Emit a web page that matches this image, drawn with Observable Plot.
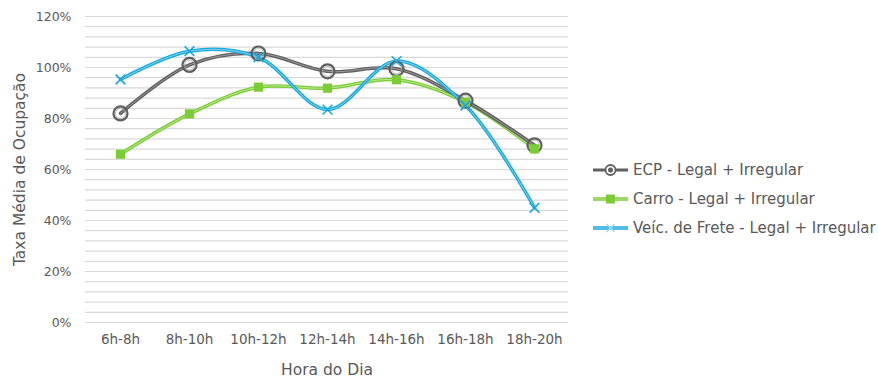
<!DOCTYPE html>
<html><head><meta charset="utf-8">
<script src="https://cdn.jsdelivr.net/npm/d3@7"></script>
<script src="https://cdn.jsdelivr.net/npm/@observablehq/plot@0.6"></script>
<style>
body{margin:0;background:#fff;font-family:"DejaVu Sans",sans-serif;}
#wrap{position:relative;width:878px;height:381px;}
#legend{position:absolute;left:593px;top:155px;font-size:15px;color:#595959;}
.li{display:flex;align-items:center;height:29px;}
.li svg{margin-right:5px;}
</style></head>
<body><div id="wrap"><div id="chart"></div><div id="legend"></div></div>
<script>
const hours = ["6h-8h","8h-10h","10h-12h","12h-14h","14h-16h","16h-18h","18h-20h"];
const ecp   = [0.82, 1.01, 1.055, 0.985, 0.995, 0.87, 0.695];
const carro = [0.66, 0.818, 0.923, 0.919, 0.952, 0.864, 0.681];
const frete = [0.953, 1.064, 1.04, 0.835, 1.025, 0.851, 0.45];
const seriesNames = ["ECP - Legal + Irregular","Carro - Legal + Irregular","Veíc. de Frete - Legal + Irregular"];
const yLabelTicks = [0,0.2,0.4,0.6,0.8,1.0,1.2];
const gridTicks = [0,0.04,0.08,0.12,0.16,0.2,0.24,0.28,0.32,0.36,0.4,0.44,0.48,0.52,0.56,0.6,0.64,0.68,0.72,0.76,0.8,0.84,0.88,0.92,0.96,1.0,1.04,1.08,1.12,1.16,1.2];

const colors = {ecp:"#5f5f5f", carro:"#7ccc36", frete:"#1aa9dc"};
const mk = (vals) => hours.map((h,i)=>({h, v: vals[i]}));
const dE = mk(ecp), dC = mk(carro), dF = mk(frete);

const chart = Plot.plot({
  width: 578, height: 381,
  marginLeft: 85, marginRight: 10, marginTop: 16, marginBottom: 59,
  style: {fontFamily: '"DejaVu Sans", sans-serif', fontSize: "13px", color: "#595959", background: "#fff"},
  x: {type: "point", domain: hours, padding: 0.5},
  y: {domain: [0, 1.2]},
  marks: [
    Plot.ruleY(gridTicks, {stroke: "#d9d9d9", strokeWidth: 1.2}),
    Plot.axisY({ticks: yLabelTicks, tickFormat: d3.format(".0%"), tickSize: 0, tickPadding: 14, fontSize: 12.5, label: null}),
    Plot.axisY({ticks: [], label: "Taxa Média de Ocupação", labelAnchor: "center", labelArrow: "none", labelOffset: 72, fontSize: 15.5}),
    Plot.axisX({tickSize: 0, tickPadding: 12, fontSize: 13.5, label: null}),
    Plot.axisX({ticks: [], label: "Hora do Dia", labelAnchor: "center", labelArrow: "none", labelOffset: 52, fontSize: 15.5}),
    Plot.line(dC, {x: "h", y: "v", curve: "catmull-rom", stroke: colors.carro, strokeWidth: 3.5}),
    Plot.line(dC, {x: "h", y: "v", curve: "catmull-rom", stroke: "#c9ecaa", strokeWidth: 0.8}),
    Plot.line(dE, {x: "h", y: "v", curve: "catmull-rom", stroke: colors.ecp, strokeWidth: 3.5}),
    Plot.line(dE, {x: "h", y: "v", curve: "catmull-rom", stroke: "#a8a8a8", strokeWidth: 0.8}),
    Plot.line(dF, {x: "h", y: "v", curve: "catmull-rom", stroke: colors.frete, strokeWidth: 3.5}),
    Plot.line(dF, {x: "h", y: "v", curve: "catmull-rom", stroke: "#9ddcf2", strokeWidth: 0.8}),
    Plot.dot(dE, {x: "h", y: "v", r: 7, stroke: colors.ecp, strokeWidth: 2.2, fill: "none"}),
    Plot.dot(dE, {x: "h", y: "v", r: 5, stroke: "#aaaaaa", strokeWidth: 0.8, fill: "none"}),
    Plot.dot(dC, {x: "h", y: "v", symbol: "square", r: 5.2, fill: colors.carro, stroke: "none"}),
    Plot.dot(dF, {x: "h", y: "v", symbol: "times", r: 4.5, stroke: colors.frete, strokeWidth: 1.6})
  ]
});
document.getElementById("chart").appendChild(chart);

// legend
const legend = document.getElementById("legend");
const swatch = [
  `<svg width="35" height="14"><line x1="0" y1="7" x2="35" y2="7" stroke="${colors.ecp}" stroke-width="3"/><circle cx="17.5" cy="7" r="5" fill="#fff" stroke="${colors.ecp}" stroke-width="1.8"/><circle cx="17.5" cy="7" r="2.5" fill="${colors.ecp}"/></svg>`,
  `<svg width="35" height="14"><line x1="0" y1="7" x2="35" y2="7" stroke="${colors.carro}" stroke-width="3.5"/><line x1="0" y1="7" x2="35" y2="7" stroke="#c9ecaa" stroke-width="0.8"/><rect x="13" y="2.5" width="9" height="9" fill="${colors.carro}"/></svg>`,
  `<svg width="35" height="14"><line x1="0" y1="7" x2="35" y2="7" stroke="${colors.frete}" stroke-width="3.5"/><line x1="0" y1="7" x2="35" y2="7" stroke="#9ddcf2" stroke-width="0.8"/><path d="M13.5,3L21.5,11M21.5,3L13.5,11" stroke="#9ddcf2" stroke-width="1.3"/></svg>`
];
seriesNames.forEach((n,i)=>{
  const d = document.createElement("div"); d.className="li";
  d.innerHTML = swatch[i] + `<span>${n}</span>`;
  legend.appendChild(d);
});
</script></body></html>
